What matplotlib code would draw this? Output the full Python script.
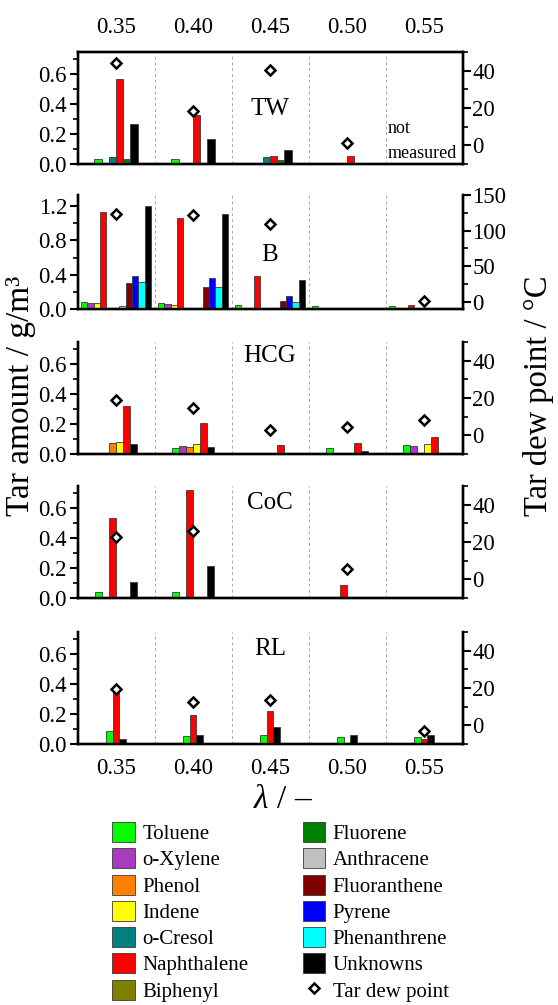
import numpy as np
import matplotlib
matplotlib.use("Agg")
import matplotlib.pyplot as plt
from matplotlib.ticker import MultipleLocator
from matplotlib.patches import Patch
from matplotlib.lines import Line2D

plt.rcParams['font.family'] = ['Liberation Serif', 'DejaVu Serif']
plt.rcParams['mathtext.fontset'] = 'custom'
plt.rcParams['mathtext.rm'] = 'Liberation Serif'
plt.rcParams['mathtext.it'] = 'Liberation Serif:italic'

# ---------------- data ----------------
lam = [0.35, 0.40, 0.45, 0.50, 0.55]
lam_labels = ["0.35", "0.40", "0.45", "0.50", "0.55"]

species = ["Toluene", "o-Xylene", "Phenol", "Indene", "o-Cresol", "Naphthalene",
           "Biphenyl", "Fluorene", "Anthracene", "Fluoranthene", "Pyrene",
           "Phenanthrene", "Unknowns"]
species_colors = ["#00ff00", "#a83cc0", "#ff8000", "#ffff00", "#008080", "#ff0000",
                  "#808000", "#008000", "#c0c0c0", "#800000", "#0000ff",
                  "#00ffff", "#000000"]

# TW
tw_slots = ["Toluene", None, "o-Cresol", "Naphthalene", "Fluorene", "Unknowns"]
tw_values = {
    "Toluene":     [0.035, 0.035, 0.0, 0.0, 0.0],
    "o-Cresol":    [0.049, 0.0, 0.047, 0.0, 0.0],
    "Naphthalene": [0.57, 0.33, 0.055, 0.053, 0.0],
    "Fluorene":    [0.033, 0.0, 0.030, 0.0, 0.0],
    "Unknowns":    [0.27, 0.167, 0.093, 0.0, 0.0],
}
tw_dew = [44.2, 18.4, 40.2, 1.5, np.nan]

# B
b_slots = ["Toluene", "o-Xylene", "Indene", "Naphthalene", None, None,
           "Anthracene", "Fluoranthene", "Pyrene", "Phenanthrene", "Unknowns"]
b_values = {
    "Toluene":      [0.079, 0.075, 0.047, 0.035, 0.035],
    "o-Xylene":     [0.075, 0.055, 0.0, 0.0, 0.0],
    "Indene":       [0.067, 0.050, 0.0, 0.0, 0.0],
    "Naphthalene":  [1.13, 1.06, 0.384, 0.0, 0.05],
    "Anthracene":   [0.04, 0.0, 0.0, 0.0, 0.0],
    "Fluoranthene": [0.30, 0.255, 0.094, 0.0, 0.0],
    "Pyrene":       [0.39, 0.36, 0.153, 0.0, 0.0],
    "Phenanthrene": [0.31, 0.26, 0.078, 0.0, 0.0],
    "Unknowns":     [1.20, 1.11, 0.333, 0.0, 0.016],
}
b_dew = [123.8, 122.4, 109.5, np.nan, 1.0]

# HCG
hcg_slots = ["Toluene", "o-Xylene", "Phenol", "Indene", "Naphthalene", "Unknowns"]
hcg_values = {
    "Toluene":     [0.0, 0.043, 0.0, 0.038, 0.063],
    "o-Xylene":    [0.0, 0.054, 0.0, 0.0, 0.054],
    "Phenol":      [0.072, 0.047, 0.0, 0.0, 0.0],
    "Indene":      [0.083, 0.070, 0.0, 0.0, 0.065],
    "Naphthalene": [0.324, 0.207, 0.061, 0.076, 0.115],
    "Unknowns":    [0.067, 0.049, 0.0, 0.020, 0.0],
}
hcg_dew = [18.7, 14.4, 2.7, 4.4, 8.0]

# CoC
coc_slots = ["Toluene", None, "Naphthalene", None, None, "Unknowns"]
coc_values = {
    "Toluene":     [0.038, 0.038, 0.0, 0.0, 0.0],
    "Naphthalene": [0.533, 0.725, 0.0, 0.085, 0.0],
    "Unknowns":    [0.109, 0.216, 0.0, 0.0, 0.0],
}
coc_dew = [22.7, 25.8, np.nan, 5.7, np.nan]

# RL
rl_slots = ["Toluene", "Naphthalene", "Unknowns"]
rl_values = {
    "Toluene":     [0.084, 0.053, 0.062, 0.044, 0.044],
    "Naphthalene": [0.368, 0.192, 0.220, 0.0, 0.031],
    "Unknowns":    [0.033, 0.057, 0.115, 0.062, 0.057],
}
rl_dew = [19.5, 12.4, 13.8, np.nan, -3.0]

# ---------------- layout ----------------
W, H = 558, 1005
fig = plt.figure(figsize=(W / 100, H / 100), dpi=100)

color_of = dict(zip(species, species_colors))
px_per_unit = 385.0 / 0.25

panels = [
    # name, slots, values, dew, top_px, bottom_px, slot_px, ylim_l, ylim_r, major_l, minor_l, major_r, minor_r, label_frac
    ("TW", tw_slots, tw_values, tw_dew, 52, 164, 7.2, (0, 0.75), (-10, 50), 0.2, 0.1, 20, 10, 0.49),
    ("B", b_slots, b_values, b_dew, 195, 309, 6.4, (0, 1.33), (-10, 150), 0.4, 0.2, 50, 25, 0.47),
    ("HCG", hcg_slots, hcg_values, hcg_dew, 342, 454, 7.0, (0, 0.75), (-10, 50), 0.2, 0.1, 20, 10, 0.875),
    ("CoC", coc_slots, coc_values, coc_dew, 486, 598, 6.9, (0, 0.75), (-10, 50), 0.2, 0.1, 20, 10, 0.85),
    ("RL", rl_slots, rl_values, rl_dew, 632, 744, 6.7, (0, 0.75), (-10, 50), 0.2, 0.1, 20, 10, 0.85),
]

left_px, right_px = 77.5, 462.5
tick_fs = 16.5
spine_lw = 1.7

for k, (name, slots, values, dew, top, bot, slot_px, yl, yr, majl, minl, majr, minr, lfrac) in enumerate(panels):
    ax = fig.add_axes([left_px / W, 1 - bot / H, (right_px - left_px) / W, (bot - top) / H])
    ax2 = ax.twinx()
    ax.set_zorder(1)
    ax2.set_zorder(2)
    ax.patch.set_visible(False)

    w = slot_px / px_per_unit
    n = len(slots)
    x0 = np.array(lam)
    for i, sp in enumerate(slots):
        if sp is None or sp not in values:
            continue
        v = np.array(values[sp], dtype=float)
        m = v > 0
        xs = x0 + (i - (n - 1) / 2) * w
        ax.bar(xs[m], v[m], width=w, color=color_of[sp], edgecolor="#3a3a3a",
               linewidth=0.6, zorder=3)

    ax2.plot(lam, dew, linestyle="none", marker="D", markersize=4.6,
             markerfacecolor="white", markeredgecolor="black", markeredgewidth=1.8,
             zorder=5)

    ax.set_xlim(0.325, 0.575)
    ax.set_ylim(*yl)
    ax2.set_ylim(*yr)

    for xb in [0.375, 0.425, 0.475, 0.525]:
        ax.axvline(xb, color="#a8a8a8", linestyle=(0, (3, 3)), linewidth=0.7, zorder=1)

    ax.yaxis.set_major_locator(MultipleLocator(majl))
    ax.yaxis.set_minor_locator(MultipleLocator(minl))
    ax2.yaxis.set_major_locator(MultipleLocator(majr))
    ax2.yaxis.set_minor_locator(MultipleLocator(minr))
    ax.yaxis.set_major_formatter(matplotlib.ticker.FormatStrFormatter("%.1f"))

    ax.tick_params(axis="y", which="major", direction="out", length=6, width=1.5,
                   labelsize=tick_fs, pad=1.5)
    ax.tick_params(axis="y", which="minor", direction="out", length=3.5, width=1.2)
    ax2.tick_params(axis="y", which="major", direction="out", length=6, width=1.5,
                    labelsize=tick_fs, pad=1.0)
    ax2.tick_params(axis="y", which="minor", direction="out", length=3.5, width=1.2)

    ax.set_xticks(lam)
    ax.set_xticklabels(lam_labels)
    ax.tick_params(axis="x", which="both", length=0, labelsize=tick_fs)
    ax.tick_params(axis="x", labelbottom=(name == "RL"), labeltop=(name == "TW"),
                   pad=10)
    ax2.tick_params(axis="x", length=0)

    for a in (ax, ax2):
        for s in a.spines.values():
            s.set_linewidth(spine_lw)
        a.spines["top"].set_visible(name == "TW")

    ax.text(0.5, lfrac, name, transform=ax.transAxes, ha="center", va="center",
            fontsize=18, zorder=6)

    if name == "TW":
        ax.text(0.5266, 0.32, "not", ha="left", va="center", fontsize=13,
                transform=ax.get_xaxis_transform())
        ax.text(0.5266, 0.09, "measured", ha="left", va="center", fontsize=13,
                transform=ax.get_xaxis_transform())

fig.text(21 / W, 1 - 396 / H, "Tar amount / g/m³", rotation=90, ha="center",
         va="center", fontsize=24)
fig.text(539 / W, 1 - 396 / H, "Tar dew point / °C", rotation=90, ha="center",
         va="center", fontsize=23.5)
fig.text(283 / W, 1 - 800 / H, r"$\lambda$ / –", ha="center", va="center", fontsize=24)

handles = [Patch(facecolor=c, edgecolor="#3a3a3a", linewidth=0.6) for c in species_colors]
handles.append(Line2D([], [], linestyle="none", marker="D", markersize=4.6,
                      markerfacecolor="white", markeredgecolor="black",
                      markeredgewidth=1.8))
labels = species + ["Tar dew point"]
fig.legend(handles, labels, ncol=2, loc="upper left",
           bbox_to_anchor=(112 / W, 1 - 822 / H), frameon=False,
           fontsize=15, handlelength=1.1, handleheight=1.1, handletextpad=0.35,
           labelspacing=0.2, columnspacing=2.6, borderpad=0, borderaxespad=0)

fig.savefig("out.png", dpi=100)
